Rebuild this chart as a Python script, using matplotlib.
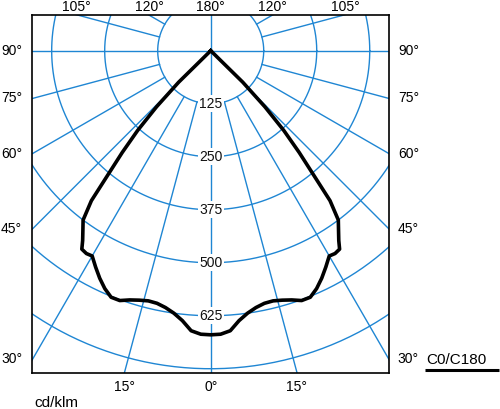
#!/usr/bin/env python
import numpy as np
import matplotlib
matplotlib.use("Agg")
import matplotlib.pyplot as plt

plt.rcParams['font.family'] = ['Liberation Sans', 'DejaVu Sans']

# C0/C180 intensity (cd/klm) against gamma angle (deg, 0 = straight down)
gamma = [0, 2, 4, 6, 8, 10, 12, 14, 16, 18, 20, 22, 24, 26, 28, 30,
         31.5, 33, 34, 35.5, 37, 38.5, 39.5, 41, 42.5, 44, 45.5, 47]
intensity = [670, 669, 662, 640, 625, 615, 609, 608, 612, 618, 627, 627, 614, 597, 578, 559,
             561, 558, 540, 519, 500, 452, 387, 318, 255, 184, 106, 0]

ring_values = [125, 250, 375, 500, 625, 750]
ring_labels = ["125", "250", "375", "500", "625"]
spoke_angles = [15, 30, 45, 60, 75, 105, 120, 135, 150, 165]
side_labels = [90, 75, 60, 45, 30]
top_labels = [105, 120]
bottom_labels = [15, 0]
curve_name = "C0/C180"
unit_name = "cd/klm"

GRID = "#1f86d3"
XMIN, XMAX = -421.4, 420.4
YMIN, YMAX = -759.3, 83.5


def to_xy(g_deg, r, side=1):
  g = np.radians(g_deg)
  return side * r * np.sin(g), -r * np.cos(g)


fig = plt.figure(figsize=(5, 4.09), dpi=100)
ax = fig.add_axes([0.064, 0.0888, 0.714, 0.8738])
ax.set_xlim(XMIN, XMAX)
ax.set_ylim(YMIN, YMAX)
ax.set_xticks([])
ax.set_yticks([])
for s in ax.spines.values():
  s.set_linewidth(1.2)
  s.set_color("black")
  s.set_zorder(5)

# rings
t = np.linspace(0, 2 * np.pi, 400)
for r in ring_values + [875]:
  ax.plot(r * np.cos(t), r * np.sin(t), color=GRID, lw=1.0, zorder=1)

# main cross through the centre
ax.plot([0, 0], [YMIN - 10, YMAX + 10], color=GRID, lw=1.0, zorder=1)
ax.plot([XMIN - 10, XMAX + 10], [0, 0], color=GRID, lw=1.0, zorder=1)

# spokes starting at the first ring
for a in spoke_angles:
  for side in (-1, 1):
    x0, y0 = to_xy(a, ring_values[0], side)
    x1, y1 = to_xy(a, 2000, side)
    ax.plot([x0, x1], [y0, y1], color=GRID, lw=1.0, zorder=1)

# ring value labels
for r, lab in zip(ring_values, ring_labels):
  ax.text(0, -r, lab, ha="center", va="center", fontsize=10, color="#111",
          bbox=dict(facecolor="white", edgecolor="none", pad=1.0), zorder=3)

# intensity curve, mirrored for C180
g = np.array(gamma)
I = np.array(intensity)
xr, yr = to_xy(g, I, 1)
xl, yl = to_xy(g[::-1], I[::-1], -1)
ax.plot(np.concatenate([xl, xr[1:]]), np.concatenate([yl, yr[1:]]),
        color="black", lw=2.6, solid_joinstyle="round", zorder=4)

# angle labels round the box
for a in side_labels:
  y = -XMAX / np.tan(np.radians(a)) if a != 90 else 0
  ax.text(XMIN - 23, y, "%d°" % a, ha="right", va="center", fontsize=10, clip_on=False)
  ax.text(XMAX + 21, y, "%d°" % a, ha="left", va="center", fontsize=10, clip_on=False)
for a in top_labels:
  x = YMAX * np.tan(np.radians(180 - a)) + (5 if a == 105 else 0)
  ax.text(-x, YMAX + 20, "%d°" % a, ha="center", va="center", fontsize=10, clip_on=False)
  ax.text(x, YMAX + 20, "%d°" % a, ha="center", va="center", fontsize=10, clip_on=False)
ax.text(0, YMAX + 20, "180°", ha="center", va="center", fontsize=10, clip_on=False)
for a in bottom_labels:
  x = -YMIN * np.tan(np.radians(a))
  ax.text(-x, YMIN - 34, "%d°" % a, ha="center", va="center", fontsize=10, clip_on=False)
  if a != 0:
    ax.text(x, YMIN - 34, "%d°" % a, ha="center", va="center", fontsize=10, clip_on=False)

ax.text(XMIN + 6, YMIN - 72, unit_name, ha="left", va="center", fontsize=11, clip_on=False)
ax.text(XMAX + 88, -729, curve_name, ha="left", va="center", fontsize=11, clip_on=False)
ax.plot([XMAX + 85, XMAX + 260], [-753, -753], color="black", lw=2.2,
        clip_on=False, solid_capstyle="butt")

fig.savefig("out.png", dpi=100)
